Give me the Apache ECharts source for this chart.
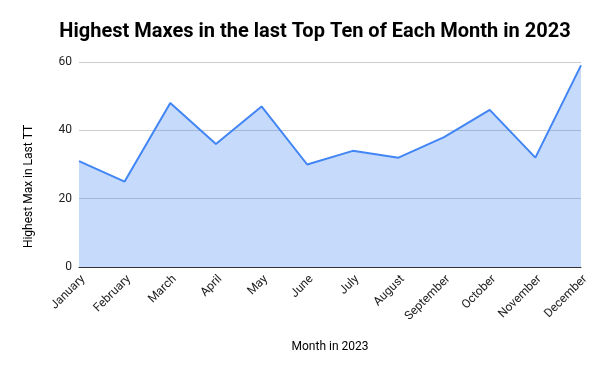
<!DOCTYPE html>
<html><head><meta charset="utf-8">
<script src="https://cdn.jsdelivr.net/npm/echarts@6/dist/echarts.min.js"></script>
<style>html,body{margin:0;padding:0;background:#fff}#c{width:600px;height:371px}</style>
</head><body><div id="c"></div>
<script>
const categories = ["January","February","March","April","May","June","July","August","September","October","November","December"];
const values = [31,25,48,36,47,30,34,32,38,46,32,59];
const yTicks = [0,20,40,60];

const chart = echarts.init(document.getElementById('c'), null, {renderer:'canvas'});
chart.setOption({
  animation:false,
  backgroundColor:'#ffffff',
  title:{
    text:'Highest Maxes in the last Top Ten of Each Month in 2023',
    left:310, top:17, textAlign:'center',
    textStyle:{fontFamily:'Roboto', fontWeight:'bold', fontSize:20, color:'#000'}
  },
  grid:{left:79, right:19, top:62, bottom:104, containLabel:false},
  xAxis:{
    type:'category', data:categories, boundaryGap:false,
    name:'Month in 2023', nameLocation:'middle', nameGap:74,
    nameTextStyle:{fontFamily:'Roboto', fontSize:12, color:'#000'},
    axisLine:{lineStyle:{color:'#333', width:1}},
    axisTick:{show:false},
    axisLabel:{rotate:45, fontFamily:'Roboto', fontSize:12, color:'#222', margin:6, interval:0,
      verticalAlign:'top'}
  },
  yAxis:{
    type:'value', min:yTicks[0], max:yTicks[yTicks.length-1], interval:20,
    name:'Highest Max in Last TT', nameLocation:'middle', nameGap:44,
    nameTextStyle:{fontFamily:'Roboto', fontSize:12, color:'#000', padding:[0,44,0,0]},
    axisLine:{show:false}, axisTick:{show:false},
    axisLabel:{fontFamily:'Roboto', fontSize:12, color:'#222', margin:7},
    splitLine:{lineStyle:{color:'#cccccc', width:1}}
  },
  series:[{
    type:'line', data:values, showSymbol:false, symbol:'none',
    lineStyle:{color:'#4285f4', width:2},
    itemStyle:{color:'#4285f4'},
    areaStyle:{color:'#4285f4', opacity:0.3}
  }]
});
</script></body></html>
